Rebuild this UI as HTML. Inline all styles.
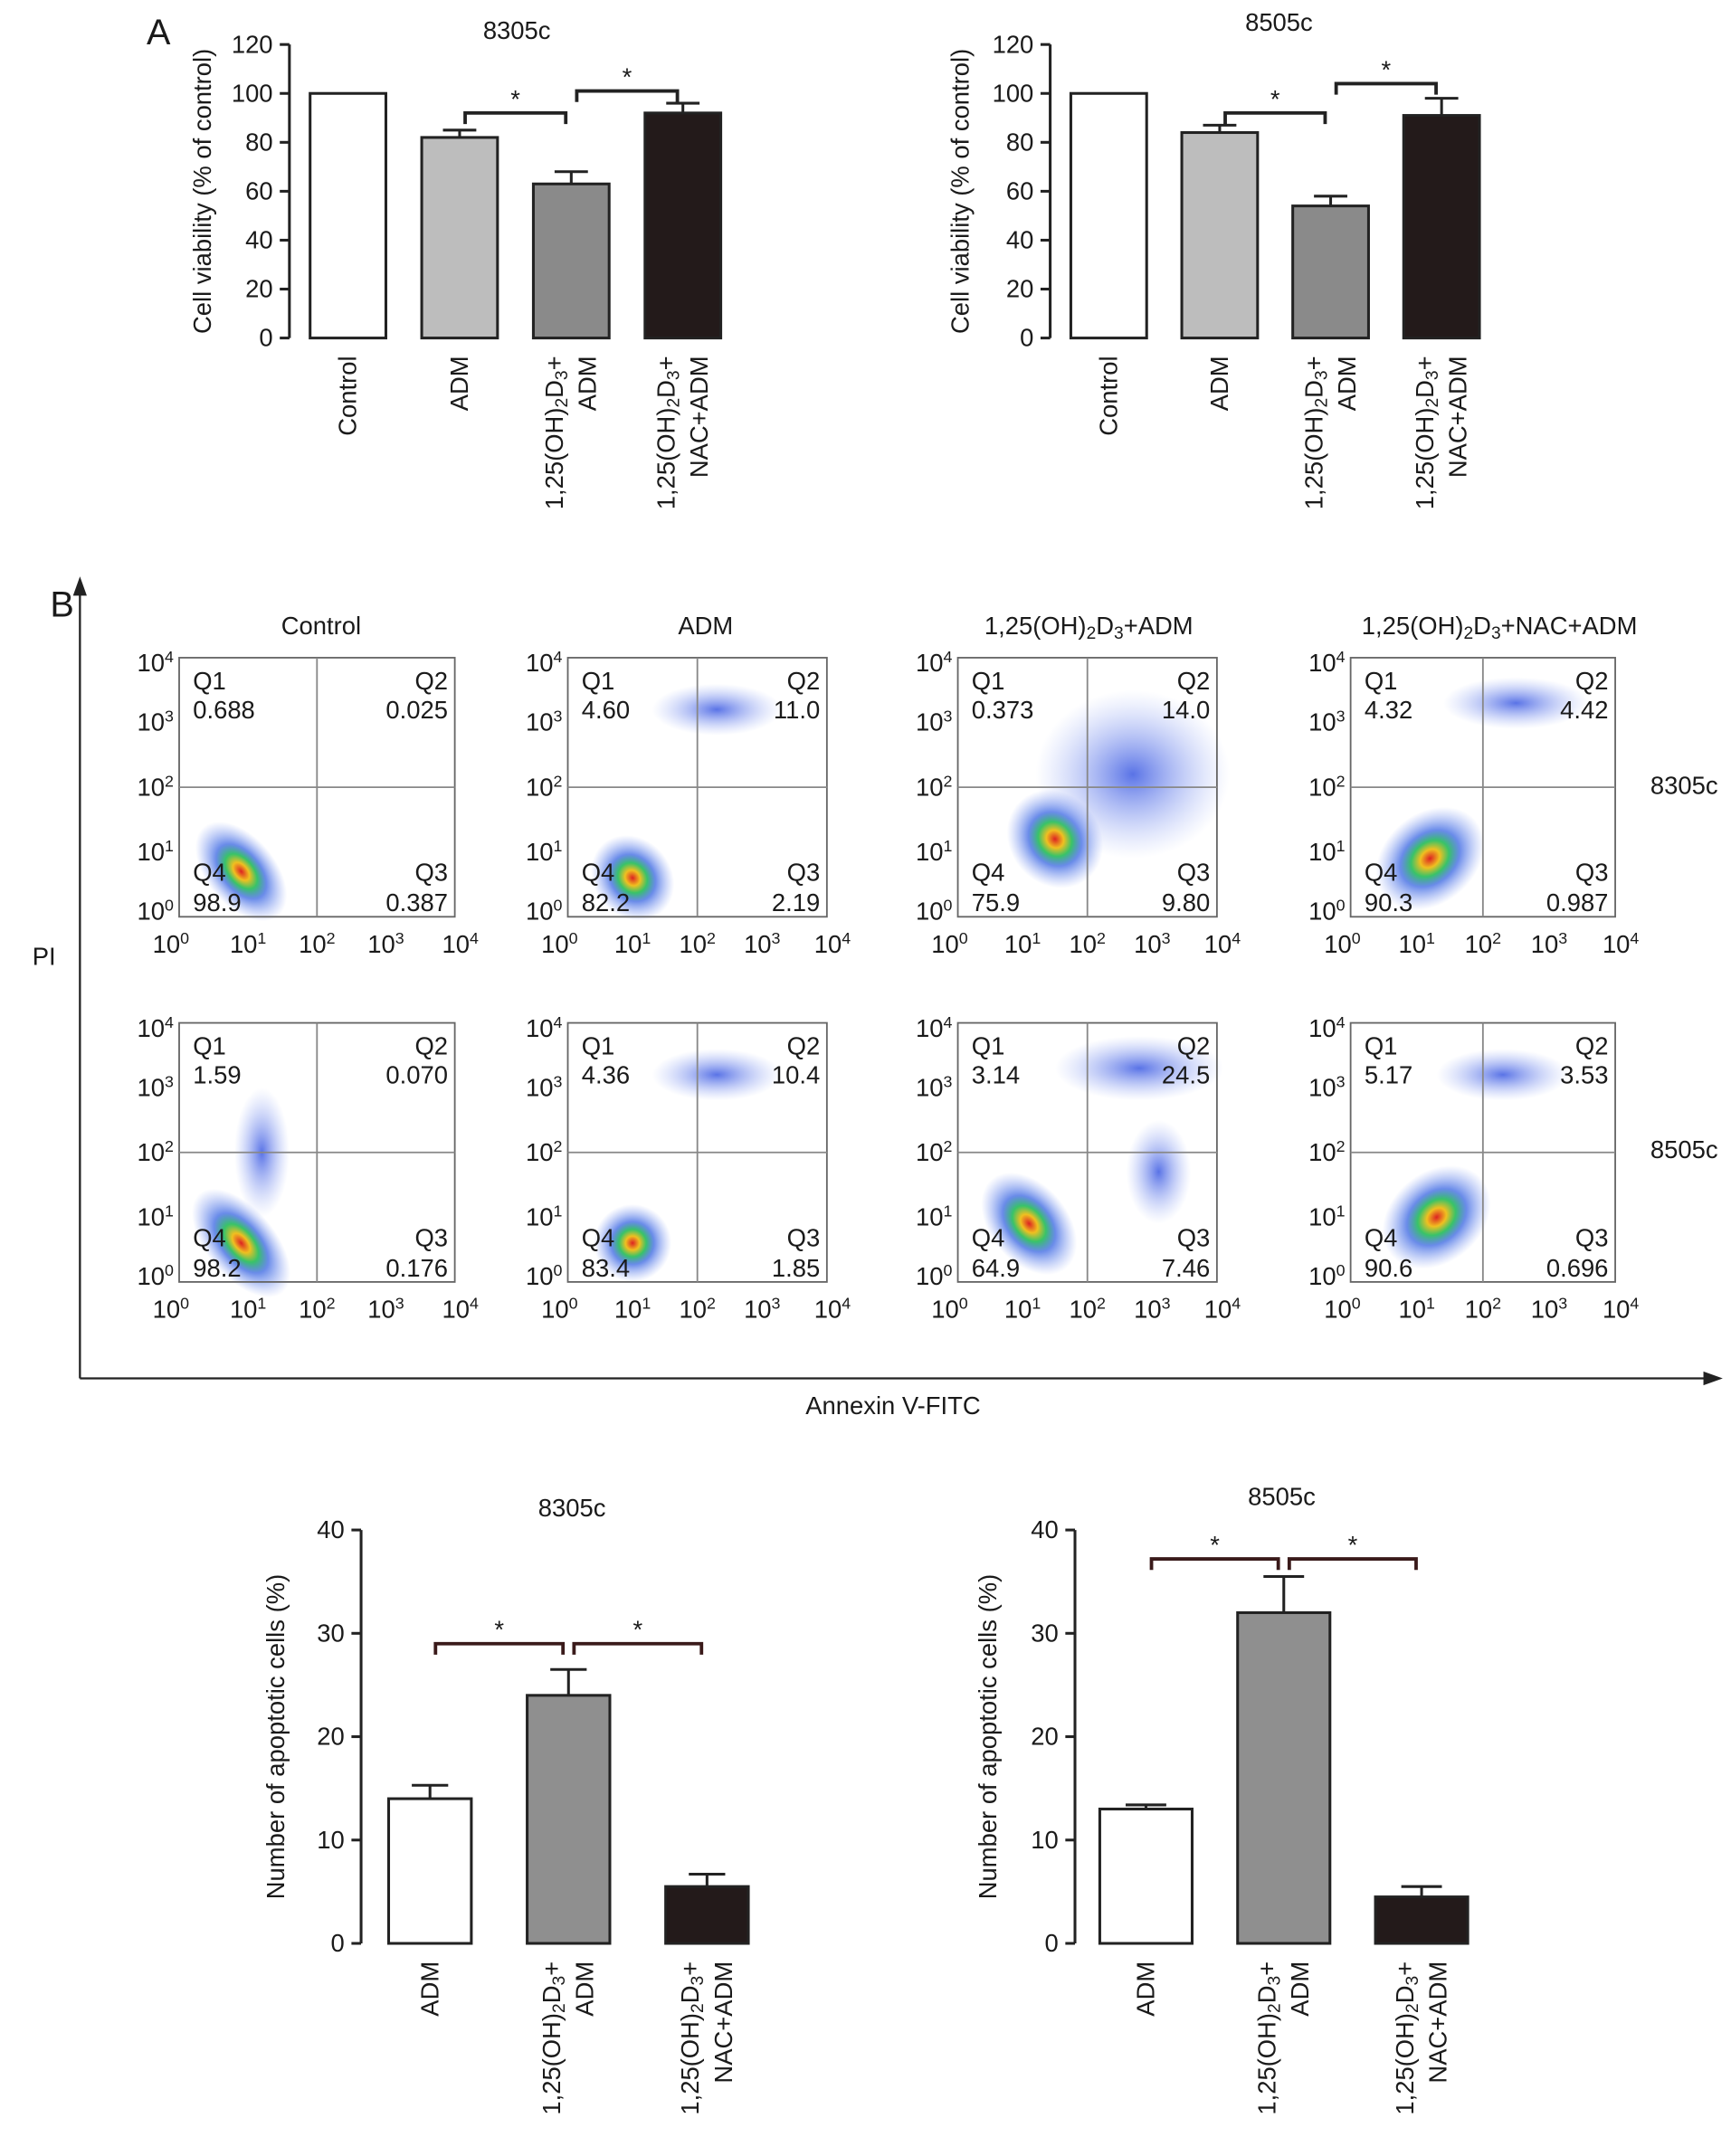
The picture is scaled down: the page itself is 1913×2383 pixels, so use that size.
<!DOCTYPE html>
<html><head><meta charset="utf-8">
<style>
html,body{margin:0;padding:0;background:#fff;}
svg{display:block;}
text{font-family:"Liberation Sans",Arial,sans-serif;fill:#1a1a1a;}
</style></head>
<body>
<svg id="fig" xmlns="http://www.w3.org/2000/svg" width="1913" height="2383" viewBox="0 0 1256 1564">
<defs>
<radialGradient id="cloud" cx="50%" cy="50%" r="50%">
<stop offset="0%" stop-color="#d22" stop-opacity="1"/>
<stop offset="18%" stop-color="#f0c020" stop-opacity="1"/>
<stop offset="35%" stop-color="#2ec060" stop-opacity="0.95"/>
<stop offset="55%" stop-color="#2a5ae0" stop-opacity="0.7"/>
<stop offset="100%" stop-color="#6f8cf0" stop-opacity="0"/>
</radialGradient>
<radialGradient id="cloudb" cx="50%" cy="50%" r="50%">
<stop offset="0%" stop-color="#3050e0" stop-opacity="0.8"/>
<stop offset="100%" stop-color="#8ea4f4" stop-opacity="0"/>
</radialGradient>
</defs>
</svg>
<script>
// ---- Panel A data ----
const vCategories = ["Control","ADM","1,25(OH)2D3+ADM","1,25(OH)2D3+NAC+ADM"];
const v8305 = [100, 82, 63, 92];
const v8305err = [0, 3, 5, 4];
const v8505 = [100, 84, 54, 91];
const v8505err = [0, 3, 4, 7];
const vTicks = [0,20,40,60,80,100,120];
// ---- Panel B apoptosis data ----
const aCategories = ["ADM","1,25(OH)2D3+ADM","1,25(OH)2D3+NAC+ADM"];
const a8305 = [14, 24, 5.5];
const a8305err = [1.3, 2.5, 1.2];
const a8505 = [13, 32, 4.5];
const a8505err = [0.4, 3.5, 1];
const aTicks = [0,10,20,30,40];
// ---- Flow quadrant values [Q1,Q2,Q3,Q4] ----
const flowTitles = ["Control","ADM","1,25(OH)2D3+ADM","1,25(OH)2D3+NAC+ADM"];
const flow8305 = [["0.688","0.025","0.387","98.9"],["4.60","11.0","2.19","82.2"],["0.373","14.0","9.80","75.9"],["4.32","4.42","0.987","90.3"]];
const flow8505 = [["1.59","0.070","0.176","98.2"],["4.36","10.4","1.85","83.4"],["3.14","24.5","7.46","64.9"],["5.17","3.53","0.696","90.6"]];
// clouds: [logX, logY, rx(log), ry(log), type]
const clouds8305 = [[[0.9,0.7,0.5,0.9,0]],[[1.0,0.6,0.6,0.7,0],[2.3,3.2,1.0,0.4,1]],[[1.5,1.2,0.7,0.8,0],[2.7,2.2,1.5,1.3,1]],[[1.2,0.9,0.9,0.7,0],[2.5,3.3,1.1,0.4,1]]];
const clouds8505 = [[[0.9,0.6,0.5,1.0,0],[1.2,2.0,0.4,1.0,1]],[[1.0,0.6,0.6,0.6,0],[2.3,3.2,1.0,0.4,1]],[[1.1,0.9,0.6,0.9,0],[2.8,3.3,1.3,0.5,1],[3.1,1.7,0.5,0.8,1]],[[1.3,1.0,0.9,0.7,0],[2.3,3.2,1.0,0.4,1]]];

const NS="http://www.w3.org/2000/svg";
const svg=document.getElementById('fig');
function mk(tag,attrs,parent){const e=document.createElementNS(NS,tag);for(const k in attrs)e.setAttribute(k,attrs[k]);(parent||svg).appendChild(e);return e;}
function txt(x,y,s,size,anchor,parent){const t=mk('text',{x:x,y:y,'font-size':size,'text-anchor':anchor||'middle'},parent);t.textContent=s;return t;}
function d3label(t,prefix){
  const a=mk('tspan',{},t);a.textContent="1,25(OH)";
  const b=mk('tspan',{'baseline-shift':'-25%','font-size':'70%'},t);b.textContent="2";
  const c=mk('tspan',{'baseline-shift':'0'},t);c.textContent="D";
  const d=mk('tspan',{'baseline-shift':'-25%','font-size':'70%'},t);d.textContent="3";
  const e=mk('tspan',{'baseline-shift':'0'},t);e.textContent=prefix;
}
function xLabel(g,cx,yTop,cat){
  if(cat.indexOf("1,25")!==0){
    const t=mk('text',{x:0,y:0,'font-size':18,'text-anchor':'end',transform:`translate(${cx+6},${yTop}) rotate(-90)`},g);
    
    
    t.textContent=cat;
  } else {
    const rest=cat.replace("1,25(OH)2D3+","");
    const t1=mk('text',{x:0,y:0,'font-size':18,'text-anchor':'end',transform:`translate(${cx-6},${yTop}) rotate(-90)`},g);
    
    
    d3label(t1,"+");
    const t2=mk('text',{x:0,y:0,'font-size':18,'text-anchor':'end',transform:`translate(${cx+18},${yTop}) rotate(-90)`},g);
    
    
    t2.textContent=rest;
  }
}
const fills=["#ffffff","#bdbdbd","#8a8a8a","#231a1a"];
function barChart(o){
  const g=mk('g',{});
  
  
  const y=v=>o.y0-(v-o.min)/(o.max-o.min)*(o.y0-o.y1);
  const ax=mk('path',{d:`M${o.ax},${o.y1} V${o.y0}`,stroke:'#222','stroke-width':2,fill:'none'},g);
  
  
  o.ticks.forEach(t=>{
    mk('line',{x1:o.ax-7,x2:o.ax,y1:y(t),y2:y(t),stroke:'#222','stroke-width':2},g);
    const l=txt(o.ax-12,y(t)+6,String(t),18,'end',g);
    
    
  });
  const tl=txt(o.titleX,o.titleY,o.title,18,'middle',g);
  
  
  const yl=mk('text',{x:0,y:0,'font-size':18,'text-anchor':'middle',transform:`translate(${o.ylx},${(o.y0+o.y1)/2}) rotate(-90)`},g);
  
  
  yl.textContent=o.ylabel;
  o.vals.forEach((v,i)=>{
    const x0=o.x0+i*o.step, cx=x0+o.bw/2;
    if(o.err[i]>0){
      mk('line',{x1:cx,x2:cx,y1:y(v),y2:y(v+o.err[i]),stroke:'#222','stroke-width':2},g);
      mk('line',{x1:cx-o.bw*0.22,x2:cx+o.bw*0.22,y1:y(v+o.err[i]),y2:y(v+o.err[i]),stroke:'#222','stroke-width':2},g);
    }
    const r=mk('rect',{x:x0,y:y(v),width:o.bw,height:o.y0-y(v),fill:o.fills[i],stroke:'#222','stroke-width':2},g);
    
    
    xLabel(g,cx,o.y0+13,o.cats[i]);
  });
  o.brackets.forEach(b=>{
    const [i,j,lv]=b; const xa=o.x0+i*o.step+o.bw/2+4, xb=o.x0+j*o.step+o.bw/2-4, yy=y(lv);
    const p=mk('path',{d:`M${xa},${yy+8} V${yy} H${xb} V${yy+8}`,stroke:o.bcol,'stroke-width':2.5,fill:'none'},g);
    
    
    const s=txt((xa+xb)/2,yy-4,'*',18,'middle',g);
    
    
  });
}
const aL=txt(115,32,'A',26,'middle');


barChart({name:'viability-chart-8305c',ax:210,y0:245,y1:32,min:0,max:120,ticks:vTicks,vals:v8305,err:v8305err,cats:vCategories,x0:225,step:81,bw:55,fills:fills,title:'8305c',titleX:375,titleY:28,ylabel:'Cell viability (% of control)',ylx:153,brackets:[[1,2,92],[2,3,101]],bcol:'#222'});
barChart({name:'viability-chart-8505c',ax:762,y0:245,y1:32,min:0,max:120,ticks:vTicks,vals:v8505,err:v8505err,cats:vCategories,x0:777,step:80.5,bw:55,fills:fills,title:'8505c',titleX:928,titleY:22,ylabel:'Cell viability (% of control)',ylx:703,brackets:[[1,2,92],[2,3,104]],bcol:'#222'});
const bfills=["#ffffff","#8f8f8f","#231a1a"];
barChart({name:'apoptosis-chart-8305c',ax:262,y0:1410,y1:1110,min:0,max:40,ticks:aTicks,vals:a8305,err:a8305err,cats:aCategories,x0:282,step:100.5,bw:60,fills:bfills,title:'8305c',titleX:415,titleY:1100,ylabel:'Number of apoptotic cells (%)',ylx:206,brackets:[[0,1,29],[1,2,29]],bcol:'#3a1a1a'});
barChart({name:'apoptosis-chart-8505c',ax:780,y0:1410,y1:1110,min:0,max:40,ticks:aTicks,vals:a8505,err:a8505err,cats:aCategories,x0:798,step:100,bw:67,fills:bfills,title:'8505c',titleX:930,titleY:1092,ylabel:'Number of apoptotic cells (%)',ylx:723,brackets:[[0,1,37.2],[1,2,37.2]],bcol:'#3a1a1a'});

const bL=txt(45,447,'B',26,'middle');


const axB=mk('path',{d:'M58,1000 V428 M58,1000 H1240',stroke:'#222','stroke-width':1.5,fill:'none'});


mk('path',{d:'M53,432 L58,418 L63,432 Z M1236,995 L1250,1000 L1236,1005 Z',fill:'#222'});
const pi=txt(32,700,'PI',18,'middle');


const an=txt(648,1026,'Annexin V-FITC',18,'middle');


const colX=[130,412,695,980], boxW=[200,188,188,192];
const rowY=[477,742], boxH=188;
const titleX=[233,512,790,1088];
flowTitles.forEach((t,i)=>{
  const e=mk('text',{x:titleX[i],y:460,'font-size':18,'text-anchor':'middle'});
  
  
  if(t.indexOf("1,25")===0) d3label(e,t.replace("1,25(OH)2D3",""));
  else e.textContent=t;
});
function sup(parent,x,y,exp,anchor){
  const t=mk('text',{x:x,y:y,'font-size':18,'text-anchor':anchor},parent);
  const a=mk('tspan',{},t);a.textContent='10';
  const b=mk('tspan',{'baseline-shift':'super','font-size':'65%'},t);b.textContent=String(exp);
  return t;
}
[flow8305,flow8505].forEach((rowData,r)=>{
  const cl=r===0?clouds8305:clouds8505;
  rowData.forEach((q,c)=>{
    const g=mk('g',{});
    
    
    const x0=colX[c], y0=rowY[r], w=boxW[c], h=boxH;
    const px=v=>x0+v/4*w, py=v=>y0+h-v/4*h;
    cl[c].forEach(k=>{
      const e=mk('ellipse',{cx:px(k[0]),cy:py(k[1]),rx:k[2]/4*w,ry:k[3]/4*h,fill:k[4]===0?'url(#cloud)':'url(#cloudb)',transform:k[4]===0?`rotate(-40 ${px(k[0])} ${py(k[1])})`:''},g);
      
      
    });
    mk('rect',{x:x0,y:y0,width:w,height:h,fill:'none',stroke:'#666','stroke-width':1.2},g);
    mk('line',{x1:px(2),x2:px(2),y1:y0,y2:y0+h,stroke:'#888','stroke-width':1.2},g);
    mk('line',{x1:x0,x2:x0+w,y1:py(2),y2:py(2),stroke:'#888','stroke-width':1.2},g);
    for(let e=0;e<=4;e++){
      sup(g,x0-4,py(e)+(e===0?2:e===4?10:6),e,'end');
      sup(g,px(e)+(e===0?-6:e===4?4:0),y0+h+26,e,'middle');
    }
    txt(x0+10,y0+23,'Q1',18,'start',g);
    txt(x0+10,y0+44,q[0],18,'start',g);
    txt(x0+w-5,y0+23,'Q2',18,'end',g);
    txt(x0+w-5,y0+44,q[1],18,'end',g);
    txt(x0+10,y0+h-26,'Q4',18,'start',g);
    txt(x0+10,y0+h-4,q[3],18,'start',g);
    txt(x0+w-5,y0+h-26,'Q3',18,'end',g);
    txt(x0+w-5,y0+h-4,q[2],18,'end',g);
  });
  const lab=txt(1222,r===0?576:840,r===0?'8305c':'8505c',18,'middle');
  
  
});
</script>
</body></html>
